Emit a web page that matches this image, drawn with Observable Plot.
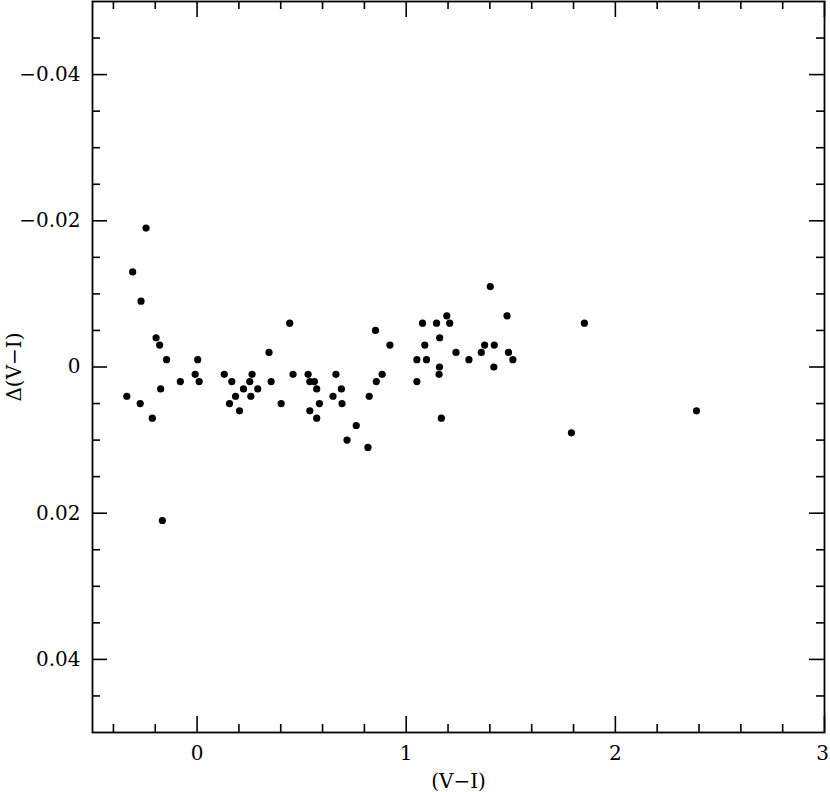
<!DOCTYPE html>
<html>
<head>
<meta charset="utf-8">
<script src="https://cdn.jsdelivr.net/npm/d3@7"></script>
<script src="https://cdn.jsdelivr.net/npm/@observablehq/plot@0.6"></script>
<style>
  html, body { margin: 0; padding: 0; background: #fff; }
  svg { display: block; }
</style>
</head>
<body>
<div id="chart"></div>
<script>
// (V-I) colour values
const vi = [
  -0.244, -0.308, -0.268, -0.196, -0.179, -0.146, 0.003, -0.080, -0.009, 0.010,
  -0.336, -0.272, -0.214, -0.174, -0.166, 0.130, 0.166, 0.222, 0.184, 0.155,
  0.203, 0.263, 0.252, 0.290, 0.257, 0.344, 0.354, 0.402, 0.443, 0.459,
  0.531, 0.539, 0.561, 0.572, 0.585, 0.539, 0.572, 0.664, 0.690, 0.650,
  0.693, 0.761, 0.717, 0.817, 0.823, 0.853, 0.922, 0.885, 0.857,
  1.402, 1.194, 1.078, 1.145, 1.208, 1.482, 1.852, 1.160, 1.089, 1.375,
  1.421, 1.238, 1.359, 1.489, 1.051, 1.097, 1.300, 1.510, 1.159, 1.419,
  1.157, 1.051, 1.168, 1.790, 2.388
];
// Δ(V-I) residuals
const dvi = [
  -0.019, -0.013, -0.009, -0.004, -0.003, -0.001, -0.001, 0.002, 0.001, 0.002,
  0.004, 0.005, 0.007, 0.003, 0.021, 0.001, 0.002, 0.003, 0.004, 0.005,
  0.006, 0.001, 0.002, 0.003, 0.004, -0.002, 0.002, 0.005, -0.006, 0.001,
  0.001, 0.002, 0.002, 0.003, 0.005, 0.006, 0.007, 0.001, 0.003, 0.004,
  0.005, 0.008, 0.010, 0.011, 0.004, -0.005, -0.003, 0.001, 0.002,
  -0.011, -0.007, -0.006, -0.006, -0.006, -0.007, -0.006, -0.004, -0.003, -0.003,
  -0.003, -0.002, -0.002, -0.002, -0.001, -0.001, -0.001, -0.001, 0.000, 0.000,
  0.001, 0.002, 0.007, 0.009, 0.006
];

const xMajor = [0, 1, 2, 3];
const xMinor = [-0.4, -0.2, 0.2, 0.4, 0.6, 0.8, 1.2, 1.4, 1.6, 1.8, 2.2, 2.4, 2.6, 2.8];
const yMajor = [-0.04, -0.02, 0, 0.02, 0.04];
const yMinor = [-0.045, -0.035, -0.03, -0.025, -0.015, -0.01, -0.005,
                0.005, 0.01, 0.015, 0.025, 0.03, 0.035, 0.045];
const xLabels = ["0", "1", "2", "3"];
const yLabels = ["\u22120.04", "\u22120.02", "0", "0.02", "0.04"];

const points = vi.map((x, i) => ({x, y: dvi[i]}));

const W = 830, H = 792;
const mL = 92, mR = 6, mT = 1, mB = 60;
const fw = W - mL - mR, fh = H - mT - mB;
const majLen = 15, minLen = 8;
const sw = 1.6;

const xInner = xMajor.slice(0, -1);
const xLast = xMajor.slice(-1);

const chart = Plot.plot({
  width: W,
  height: H,
  marginLeft: mL,
  marginRight: mR,
  marginTop: mT,
  marginBottom: mB,
  style: {fontFamily: "'DejaVu Serif', serif", fontSize: "20px", color: "#000", background: "#fff", overflow: "visible"},
  x: {domain: [-0.5, 3]},
  y: {domain: [-0.05, 0.05], reverse: true},
  marks: [
    // inward ticks: left & right
    Plot.tickY(yMajor, {y: d => d, insetRight: fw - majLen, stroke: "#000", strokeWidth: sw}),
    Plot.tickY(yMajor, {y: d => d, insetLeft: fw - majLen, stroke: "#000", strokeWidth: sw}),
    Plot.tickY(yMinor, {y: d => d, insetRight: fw - minLen, stroke: "#000", strokeWidth: sw}),
    Plot.tickY(yMinor, {y: d => d, insetLeft: fw - minLen, stroke: "#000", strokeWidth: sw}),
    // inward ticks: bottom & top
    Plot.tickX(xMajor, {x: d => d, insetTop: fh - majLen - 1, stroke: "#000", strokeWidth: sw}),
    Plot.tickX(xMajor, {x: d => d, insetBottom: fh - majLen - 1, stroke: "#000", strokeWidth: sw}),
    Plot.tickX(xMinor, {x: d => d, insetTop: fh - minLen, stroke: "#000", strokeWidth: sw}),
    Plot.tickX(xMinor, {x: d => d, insetBottom: fh - minLen, stroke: "#000", strokeWidth: sw}),
    Plot.frame({stroke: "#000", strokeWidth: 1.8}),
    Plot.dot(points, {x: "x", y: "y", r: 3.6, fill: "#000", stroke: "none"}),
    Plot.axisY(yMajor, {
      anchor: "left", tickSize: 0, tickPadding: 12,
      tickFormat: (d) => yLabels[yMajor.indexOf(d)],
      fontSize: 20,
      label: "\u0394(V\u2212I)", labelAnchor: "center", labelOffset: 86, labelArrow: "none"
    }),
    Plot.axisX(xInner, {
      anchor: "bottom", tickSize: 0, tickPadding: 13,
      tickFormat: d => xLabels[xMajor.indexOf(d)],
      fontSize: 20,
      label: "(V\u2212I)", labelAnchor: "center", labelOffset: 55, labelArrow: "none"
    }),
    Plot.axisX(xLast, {
      anchor: "bottom", tickSize: 0, tickPadding: 13, dx: -2,
      tickFormat: d => xLabels[xMajor.indexOf(d)],
      fontSize: 20, label: null
    })
  ]
});

document.getElementById("chart").appendChild(chart);
</script>
</body>
</html>
